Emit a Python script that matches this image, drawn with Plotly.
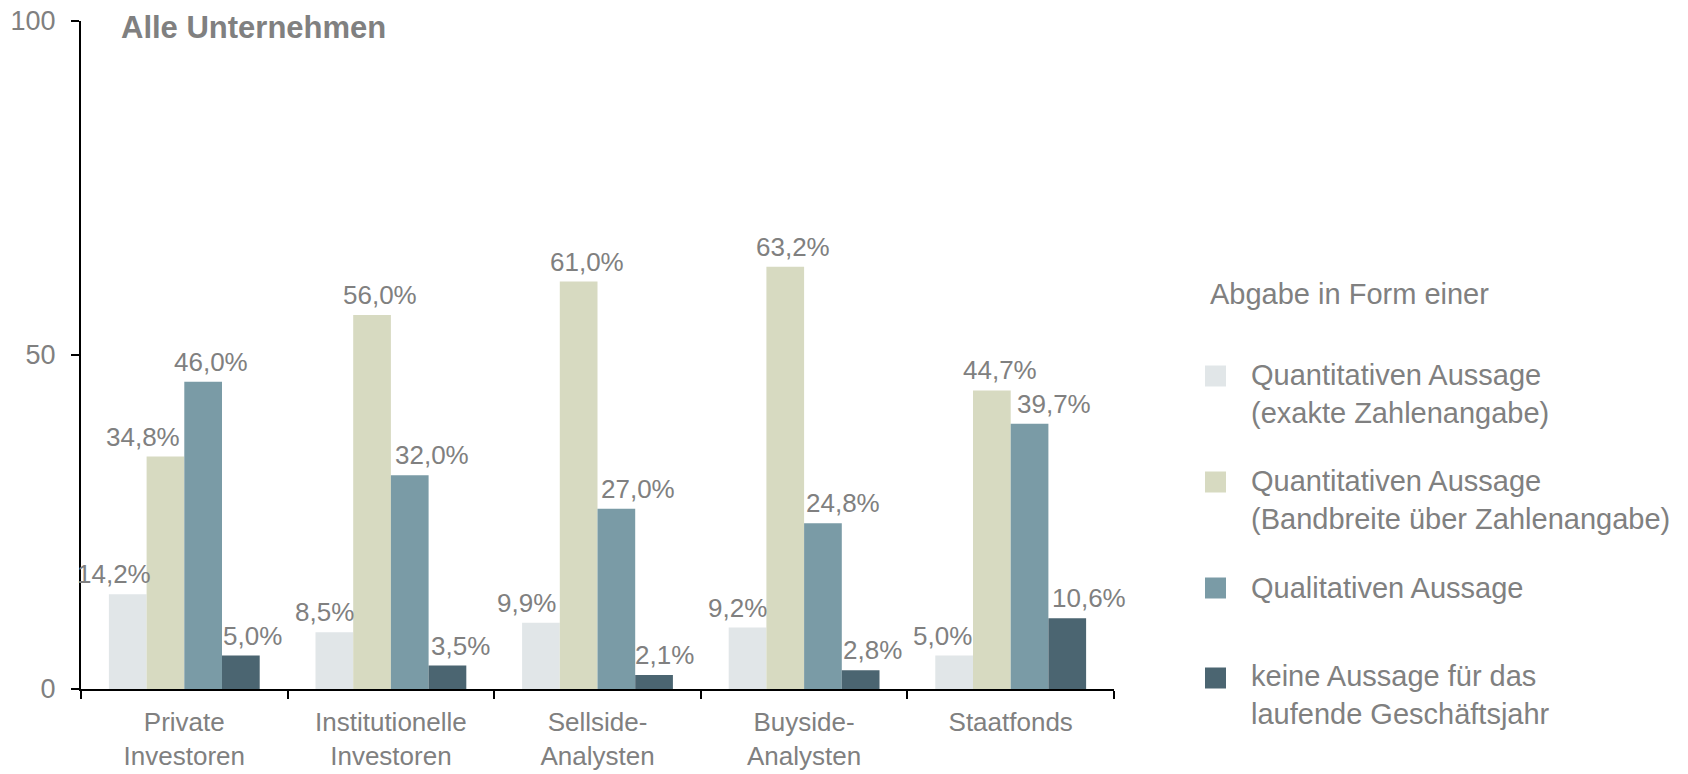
import plotly.graph_objects as go

# Stakeholder groups (x categories)
categories = [
    "Private<br>Investoren",
    "Institutionelle<br>Investoren",
    "Sellside-<br>Analysten",
    "Buyside-<br>Analysten",
    "Staatfonds",
]

# Series names (legend text)
series_names = [
    "Quantitativen Aussage<br>(exakte Zahlenangabe)",
    "Quantitativen Aussage<br>(Bandbreite über Zahlenangabe)",
    "Qualitativen Aussage",
    "keine Aussage für das<br>laufende Geschäftsjahr",
]

# Shares in percent per series
quant_exakt = [14.2, 8.5, 9.9, 9.2, 5.0]
quant_bandbreite = [34.8, 56.0, 61.0, 63.2, 44.7]
qualitativ = [46.0, 32.0, 27.0, 24.8, 39.7]
keine_aussage = [5.0, 3.5, 2.1, 2.8, 10.6]

y_ticks = [0, 50, 100]

series_values = [quant_exakt, quant_bandbreite, qualitativ, keine_aussage]
colors = ["#e1e6e8", "#d7dac1", "#7a9ba6", "#4b6571"]

# Horizontal nudges (px) of the value labels relative to their bar centre,
# so that neighbouring labels do not collide with the taller bars
label_nudge = [
    [-14, -10, -14, -10, -12],
    [-22, 8, 8, 8, 8],
    [8, 22, 22, 20, 24],
    [12, 13, 10, 12, 22],
]

GRAY = "#808080"
FONT = "Liberation Sans, Arial, sans-serif"

W, H = 1688, 774
ML, MR, MT, MB = 81, 574, 21, 85
PW, PH = W - ML - MR, H - MT - MB
BARGAP = 0.27
BAR_PX = PW / len(categories) * (1 - BARGAP) / len(series_values)


def px_x(px):
    return (px - ML) / PW


def px_y(py):
    return (H - MB - py) / PH


def fmt(v):
    return f"{v:.1f}".replace(".", ",") + "%"


fig = go.Figure()
annotations = []
for j, (name, vals, col) in enumerate(zip(series_names, series_values, colors)):
    fig.add_trace(go.Bar(
        x=categories,
        y=vals,
        name=name,
        marker=dict(color=col, line=dict(width=0)),
        showlegend=False,
    ))
    # value labels above each bar, drawn on top of all bars
    for i, (cat, v) in enumerate(zip(categories, vals)):
        annotations.append(dict(
            text=fmt(v), x=cat, y=v, xref="x", yref="y",
            xanchor="center", yanchor="bottom", showarrow=False,
            xshift=(j - 1.5) * BAR_PX + label_nudge[j][i], yshift=3,
            font=dict(family=FONT, size=26, color=GRAY),
        ))

annotations.append(dict(
    text="<b>Alle Unternehmen</b>", x=px_x(119), y=px_y(27), xref="paper", yref="paper",
    xanchor="left", yanchor="middle", showarrow=False,
    font=dict(family=FONT, size=31, color=GRAY)))

# Legend drawn as swatches + labels to the right of the plot
annotations.append(dict(
    text="Abgabe in Form einer", x=px_x(1208), y=px_y(294), xref="paper", yref="paper",
    xanchor="left", yanchor="middle", showarrow=False,
    font=dict(family=FONT, size=29, color=GRAY)))
legend_line1_y = [376, 482, 588, 678]
legend_lines = [2, 2, 1, 2]
shapes = []
for name, col, ly, n in zip(series_names, colors, legend_line1_y, legend_lines):
    shapes.append(dict(type="rect", xref="paper", yref="paper",
                       x0=px_x(1205), x1=px_x(1226), y0=px_y(ly - 10.5), y1=px_y(ly + 10.5),
                       fillcolor=col, line=dict(width=0)))
    annotations.append(dict(text=name, x=px_x(1249), y=px_y(ly + (n - 1) * 17.5),
                            xref="paper", yref="paper", xanchor="left", yanchor="middle",
                            align="left", showarrow=False,
                            font=dict(family=FONT, size=29, color=GRAY)))

fig.update_layout(
    width=W, height=H,
    margin=dict(l=ML, r=MR, t=MT, b=MB, pad=0, autoexpand=False),
    paper_bgcolor="white", plot_bgcolor="white",
    barmode="group", bargap=BARGAP, bargroupgap=0,
    font=dict(family=FONT, color=GRAY),
    showlegend=False,
    shapes=shapes,
    annotations=annotations,
)
fig.update_xaxes(
    type="category", automargin=False, range=[-0.5, len(categories) - 0.5],
    showline=True, linecolor="black", linewidth=2,
    ticks="outside", tickson="boundaries", ticklen=8, tickwidth=2, tickcolor="black",
    tickfont=dict(family=FONT, size=26, color=GRAY),
    ticklabelstandoff=9,
    showgrid=False, zeroline=False,
)
fig.update_yaxes(
    range=[0, 100], tickvals=y_ticks, automargin=False,
    showline=True, linecolor="black", linewidth=2,
    ticks="outside", ticklen=8, tickwidth=2, tickcolor="black",
    tickfont=dict(family=FONT, size=27, color=GRAY),
    ticklabelstandoff=10,
    showgrid=False, zeroline=False,
)

fig.write_html("out.html")
